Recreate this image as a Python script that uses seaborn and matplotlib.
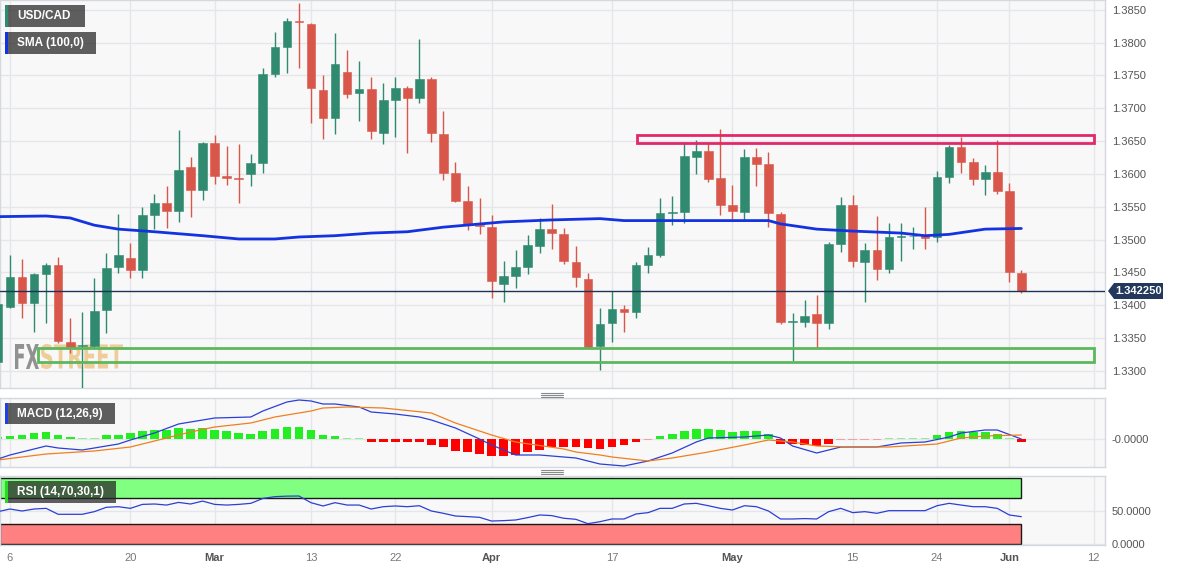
import matplotlib
matplotlib.use("Agg")
import matplotlib.pyplot as plt
import seaborn as sns
from matplotlib.patches import Rectangle, Polygon, PathPatch
from matplotlib.lines import Line2D
from matplotlib.textpath import TextPath
from matplotlib.font_manager import FontProperties
from matplotlib.transforms import Affine2D

# ---- daily USD/CAD candles (trading-day index, 0 = Feb 6) ----
days = list(range(-1, 85))
opens = [1.3314, 1.3398, 1.3443, 1.3404, 1.3448, 1.3462, 1.3344, 1.3338, 1.3338, 1.3393,
         1.3459, 1.3472, 1.3454, 1.3538, 1.3556, 1.3544, 1.3611, 1.3576, 1.3647, 1.3597,
         1.3594, 1.3600, 1.3617, 1.3753, 1.3794, 1.3833, 1.3829, 1.3728, 1.3686, 1.3756,
         1.3724, 1.3730, 1.3663, 1.3713, 1.3731, 1.3716, 1.3744, 1.3661, 1.3602, 1.3559,
         1.3523, 1.3519, 1.3433, 1.3445, 1.3459, 1.3491, 1.3516, 1.3509, 1.3466, 1.3440,
         1.3338, 1.3373, 1.3394, 1.3390, 1.3462, 1.3477, 1.3541, 1.3542, 1.3626, 1.3635,
         1.3594, 1.3552, 1.3542, 1.3626, 1.3615, 1.3539, 1.3375, 1.3375, 1.3387, 1.3373,
         1.3494, 1.3552, 1.3466, 1.3484, 1.3455, 1.3504, 1.3505, 1.3505, 1.3504, 1.3596,
         1.3641, 1.3619, 1.3593, 1.3603, 1.3574, 1.3449]
highs = [1.3408, 1.3477, 1.3471, 1.3449, 1.3465, 1.3474, 1.3381, 1.3390, 1.3442, 1.3480,
         1.3539, 1.3495, 1.3550, 1.3570, 1.3582, 1.3667, 1.3626, 1.3649, 1.3660, 1.3643,
         1.3646, 1.3631, 1.3762, 1.3817, 1.3838, 1.3861, 1.3830, 1.3750, 1.3815, 1.3789,
         1.3772, 1.3748, 1.3739, 1.3747, 1.3734, 1.3806, 1.3747, 1.3696, 1.3619, 1.3582,
         1.3564, 1.3538, 1.3468, 1.3484, 1.3507, 1.3533, 1.3555, 1.3518, 1.3491, 1.3449,
         1.3396, 1.3422, 1.3401, 1.3466, 1.3489, 1.3564, 1.3567, 1.3649, 1.3651, 1.3646,
         1.3669, 1.3583, 1.3638, 1.3640, 1.3634, 1.3542, 1.3388, 1.3408, 1.3416, 1.3497,
         1.3565, 1.3568, 1.3495, 1.3536, 1.3526, 1.3526, 1.3519, 1.3550, 1.3605, 1.3644,
         1.3657, 1.3625, 1.3614, 1.3652, 1.3587, 1.3454]
lows = [1.3300, 1.3396, 1.3381, 1.3359, 1.3373, 1.3343, 1.3327, 1.3274, 1.3337, 1.3358,
        1.3449, 1.3442, 1.3442, 1.3516, 1.3518, 1.3527, 1.3535, 1.3561, 1.3585, 1.3583,
        1.3556, 1.3582, 1.3602, 1.3747, 1.3754, 1.3762, 1.3678, 1.3654, 1.3661, 1.3715,
        1.3680, 1.3654, 1.3646, 1.3657, 1.3632, 1.3708, 1.3649, 1.3591, 1.3558, 1.3515,
        1.3509, 1.3411, 1.3405, 1.3426, 1.3448, 1.3480, 1.3486, 1.3463, 1.3428, 1.3335,
        1.3302, 1.3344, 1.3359, 1.3381, 1.3449, 1.3474, 1.3523, 1.3526, 1.3600, 1.3588,
        1.3538, 1.3532, 1.3530, 1.3582, 1.3519, 1.3372, 1.3315, 1.3367, 1.3335, 1.3364,
        1.3481, 1.3459, 1.3405, 1.3439, 1.3449, 1.3468, 1.3486, 1.3486, 1.3497, 1.3587,
        1.3602, 1.3583, 1.3568, 1.3570, 1.3436, 1.3419]
closes = [1.3402, 1.3443, 1.3404, 1.3448, 1.3462, 1.3346, 1.3337, 1.3340, 1.3391, 1.3457,
          1.3477, 1.3454, 1.3538, 1.3556, 1.3544, 1.3606, 1.3576, 1.3647, 1.3597, 1.3594,
          1.3593, 1.3617, 1.3753, 1.3794, 1.3833, 1.3832, 1.3731, 1.3686, 1.3768, 1.3722,
          1.3730, 1.3666, 1.3713, 1.3731, 1.3716, 1.3744, 1.3663, 1.3602, 1.3559, 1.3524,
          1.3521, 1.3437, 1.3445, 1.3459, 1.3492, 1.3516, 1.3510, 1.3468, 1.3443, 1.3337,
          1.3372, 1.3394, 1.3390, 1.3462, 1.3477, 1.3541, 1.3542, 1.3628, 1.3635, 1.3593,
          1.3552, 1.3544, 1.3626, 1.3615, 1.3541, 1.3375, 1.3376, 1.3384, 1.3373, 1.3494,
          1.3552, 1.3468, 1.3484, 1.3455, 1.3504, 1.3506, 1.3506, 1.3503, 1.3596, 1.3641,
          1.3619, 1.3593, 1.3603, 1.3574, 1.3451, 1.34225]

sma_days = [-1, 3, 5, 7, 9, 12, 16, 19, 22, 24, 27, 30, 33, 36, 41, 45, 49, 51, 56, 63,
            64, 67, 70, 74, 76, 78, 81, 84]
sma_vals = [1.3535, 1.3536, 1.3533, 1.3522, 1.3516, 1.3512, 1.3506, 1.3501, 1.3501, 1.3504,
            1.3506, 1.3510, 1.3512, 1.3519, 1.3527, 1.3530, 1.3532, 1.3529, 1.3529, 1.3529,
            1.3524, 1.3516, 1.3513, 1.3510, 1.3506, 1.3508, 1.3516, 1.3517]

last_price = 1.34225
resist_lo, resist_hi, resist_from = 1.3647, 1.3660, 52.1
support_lo, support_hi, support_from = 1.3314, 1.3335, 2.3
zone_to = 90

# ---- MACD (12,26,9) ----
macd_days = [-1, 0, 3, 4, 6, 7, 9, 10, 12, 14, 15, 17, 20, 21, 23, 24, 25, 26, 27, 29,
             30, 32, 34, 35, 37, 39, 40, 42, 44, 47, 48, 49, 51, 53, 55, 57, 58, 61, 63, 64,
             65, 67, 68, 69, 72, 74, 76, 78, 79, 81, 82, 84]
macd_vals = [-20, -16, -7, -9, -11, -9, -5, -1, 6, 15, 17, 21, 22, 28, 37, 39, 38, 35, 35, 32,
             27, 25, 22, 19, 11, 0, -6, -16, -16, -19, -22, -25, -27, -22, -14, -3, 1, 2, 4, 1,
             -7, -14, -11, -8, -8, -4, -3, 2, 6, 9, 9, 0]
signal_days = [-1, 3, 7, 10, 13, 15, 17, 20, 22, 25, 26, 28, 31, 35, 37, 40, 42, 46, 47, 49,
               50, 53, 55, 58, 61, 63, 65, 67, 70, 73, 77, 79, 81, 84]
signal_vals = [-21, -15, -12, -8, 1, 7, 12, 16, 22, 28, 31, 32, 31, 26, 16, 4, -3, -10, -13, -16,
               -18, -22, -19, -13, -6, -1, -3, -7, -8, -8, -5, 1, 3, 4]
hist_vals = [2, 3.3, 4.3, 6, 7, 4.3, 2, 1, 1, 3.7, 4.3, 6, 8.3, 9.3, 9.3, 10.7, 10, 11, 9.3, 7.7,
             6, 5.3, 8.3, 10.3, 12, 12, 8.7, 4.3, 3.3, 1, 0.3, -3.3, -3.3, -3.3, -3.3, -3.3,
             -5.7, -8.3, -11.7, -13.3, -14.7, -16.7, -17.3, -15.7, -13.3, -10.7, -8, -8, -8, -9,
             -9.7, -8, -6.3, -3.3, -0.7, 2.7, 5, 8.3, 10.3, 10.3, 8.7, 7, 7.7, 7.7, 5, -4.7,
             -5, -5.7, -7.3, -4.7, -0.7, -0.5, -0.5, -0.3, 0.7, 0.7, 1, 1, 3.7, 7, 7.7, 6.7,
             6.7, 5, 0.7, -3]
scale = 1e-4

# ---- RSI (14) ----
rsi_vals = [49, 53, 50, 53, 54, 45, 45, 45, 49, 55.6, 56.5, 54, 60, 60.6, 59, 63, 60.6, 65, 60,
            59, 60, 61.6, 69, 71.7, 72.5, 72.7, 62.6, 57.6, 62.6, 59, 59, 53, 56.5, 57.6, 56.5,
            58, 50, 46.5, 42.4, 41.5, 40.4, 34.8, 35.4, 36.4, 40, 44, 43, 39, 37.4, 30.8, 33.8,
            37.9, 37.9, 45.5, 47.5, 54, 54, 60.6, 61.6, 58, 54, 51.5, 58, 56.5, 50, 37.9, 37.9,
            38.5, 37.9, 49, 54, 47.5, 49, 46.5, 50.5, 50.5, 50.5, 50.5, 58, 61.6, 59, 56.5,
            56.5, 54, 44, 41.4]

tick_days = [0, 10, 17, 25, 32, 40, 50, 60, 70, 77, 83, 90]
tick_labels = ['6', '20', 'Mar', '13', '22', 'Apr', '17', 'May', '15', '24', 'Jun', '12']
months = {'Mar', 'Apr', 'May', 'Jun'}

GREEN = '#2f8a70'
RED = '#d9574a'
BG = '#f8f8f8'
GRID = '#e4e6eb'
SPINE = '#d4d8df'

sns.set_style("white")
plt.rcParams['font.family'] = ['Liberation Sans', 'DejaVu Sans']

W, H = 1182, 571
fig = plt.figure(figsize=(W / 100, H / 100), dpi=100)


def fbox(x0, y0, x1, y1):
    return [x0 / W, 1 - y1 / H, (x1 - x0) / W, (y1 - y0) / H]


ax = fig.add_axes(fbox(0, 0, 1105, 388))
axm = fig.add_axes(fbox(0, 398, 1105, 467))
axr = fig.add_axes(fbox(0, 476, 1105, 545))
XL = (-0.83, 90.95)

for a in (ax, axm, axr):
    a.set_facecolor(BG)
    a.set_xlim(*XL)
    a.set_xticks(tick_days)
    a.grid(True, color=GRID, lw=1)
    a.set_axisbelow(True)
    for s in a.spines.values():
        s.set_color(SPINE)
        s.set_linewidth(1)
    a.tick_params(axis='both', length=0)
    a.tick_params(axis='y', left=False, labelleft=False, right=False, labelright=True,
                  pad=5, labelsize=8, labelcolor='#555555')
    a.tick_params(axis='x', labelbottom=False)

# ---- main panel ----
for i, o, h, l, c in zip(days, opens, highs, lows, closes):
    col = GREEN if c >= o else RED
    ax.vlines(i, l, h, color=col, lw=1, zorder=3)
    ax.bar(i, max(abs(c - o), 0.00012), bottom=min(o, c), width=0.72,
           color=col, edgecolor=col, lw=0.4, zorder=4)

sns.lineplot(x=sma_days, y=sma_vals, ax=ax, color='#1433e0', linewidth=2,
             estimator=None, sort=False, legend=False, zorder=5)
ax.axhline(last_price, color='#1f3357', lw=1, zorder=4)

ax.add_patch(Rectangle((resist_from, resist_lo), zone_to - resist_from, resist_hi - resist_lo,
                       fill=False, edgecolor='#e3286a', lw=2, zorder=6))
ax.add_patch(Rectangle((support_from, support_lo), zone_to - support_from, support_hi - support_lo,
                       fill=False, edgecolor='#5cb85c', lw=2, zorder=6))

ax.set_ylim(1.3274, 1.3865)
yt = [1.33 + 0.005 * k for k in range(12)]
ax.set_yticks(yt)
ax.set_yticklabels([f"{v:.4f}" for v in yt])
ax.set_xlabel('')
ax.set_ylabel('')

# watermark
pix = Affine2D().scale(1 / W, -1 / H).translate(0, 1) + fig.transFigure


def watermark(text, x0, x1, base, cap, color, alpha, z):
    tp = TextPath((0, 0), text, size=100, prop=FontProperties(family='DejaVu Sans', weight='bold'))
    ext = tp.get_extents()
    tr = (Affine2D().translate(-ext.x0, -ext.y0)
          .scale((x1 - x0) / ext.width, -cap / ext.height).translate(x0, base) + pix)
    ax.add_patch(PathPatch(tp, transform=tr, facecolor=color, edgecolor='none',
                           alpha=alpha, zorder=z))


watermark('FX', 15, 39, 369, 25, '#8c8c8c', 0.95, 7)
watermark('STREET', 41, 123, 369, 25, '#e9b05a', 0.6, 2.5)

# ---- MACD panel ----
hcols = []
for v in hist_vals:
    if v >= 0:
        hcols.append('#22ee22' if abs(v) >= 1.5 else '#8df08d')
    else:
        hcols.append('#ff0000' if abs(v) >= 1.5 else '#f5a0a0')
hist_h = [(v if abs(v) >= 1 else (1 if v >= 0 else -1)) * scale for v in hist_vals]
axm.bar(days, hist_h, width=0.72, color=hcols, lw=0, zorder=2)
sns.lineplot(x=macd_days, y=[v * scale for v in macd_vals], ax=axm, color='#2b3fd6',
             linewidth=0.9, estimator=None, sort=False, legend=False, zorder=3)
sns.lineplot(x=signal_days, y=[v * scale for v in signal_vals], ax=axm, color='#f07f20',
             linewidth=0.9, estimator=None, sort=False, legend=False, zorder=3)
axm.set_ylim(-0.0028, 0.0041)
axm.set_yticks([0])
axm.set_yticklabels(['-0.0000'])
axm.set_xlabel('')
axm.set_ylabel('')

# ---- RSI panel ----
axr.add_patch(Rectangle((XL[0], 70), days[-1] - XL[0], 30, facecolor='#80ff80',
                        edgecolor='#1a1a1a', lw=1, zorder=1))
axr.add_patch(Rectangle((XL[0], 0), days[-1] - XL[0], 30, facecolor='#ff8080',
                        edgecolor='#1a1a1a', lw=1, zorder=1))
sns.lineplot(x=days, y=rsi_vals, ax=axr, color='#2b3fd6', linewidth=0.9,
             estimator=None, sort=False, legend=False, zorder=3)
axr.set_ylim(-1.5, 103)
axr.set_yticks([0, 50])
axr.set_yticklabels(['0.0000', '50.0000'])
axr.tick_params(axis='x', labelbottom=True, pad=6, labelsize=8, labelcolor='#777777')
axr.set_xticklabels(tick_labels)
for t in axr.get_xticklabels():
    if t.get_text() in months:
        t.set_fontweight('bold')
        t.set_color('#555555')
axr.set_xlabel('')
axr.set_ylabel('')


# ---- overlays in figure pixels ----
def tag(x0, y0, x1, y1, text, stripe):
    fig.add_artist(Rectangle((x0 / W, 1 - y1 / H), (x1 - x0) / W, (y1 - y0) / H,
                             transform=fig.transFigure, facecolor='#2a2a2a', alpha=0.75,
                             edgecolor='none', zorder=10))
    fig.add_artist(Rectangle((x0 / W, 1 - y1 / H), 2.5 / W, (y1 - y0) / H,
                             transform=fig.transFigure, facecolor=stripe,
                             edgecolor='none', zorder=11))
    fig.text((x0 + 12) / W, 1 - (y0 + y1) / 2 / H, text, color='white', fontsize=8.5,
             weight='bold', va='center', ha='left', zorder=12)


tag(5, 5, 85, 27, 'USD/CAD', GREEN)
tag(5, 32, 96, 54, 'SMA (100,0)', '#1433e0')
tag(5, 403, 115, 424, 'MACD (12,26,9)', '#2040e0')
tag(5, 481, 116, 503, 'RSI (14,70,30,1)', '#22dd22')

pts = [(1108, 291), (1114, 283), (1163, 283), (1163, 299), (1114, 299)]
fig.add_artist(Polygon([(x / W, 1 - y / H) for x, y in pts], closed=True,
                       transform=fig.transFigure, facecolor='#22385c', edgecolor='none', zorder=10))
fig.text(1139 / W, 1 - 291 / H, f"{last_price:.6f}", color='white', fontsize=8,
         weight='bold', ha='center', va='center', zorder=11)

for yy in (392.5, 394.5, 396.5, 469.5, 471.5, 473.5):
    fig.add_artist(Line2D([541 / W, 563 / W], [1 - yy / H] * 2, color='#8a8a8a', lw=0.8))

fig.savefig('out.png', dpi=100, facecolor='white')
